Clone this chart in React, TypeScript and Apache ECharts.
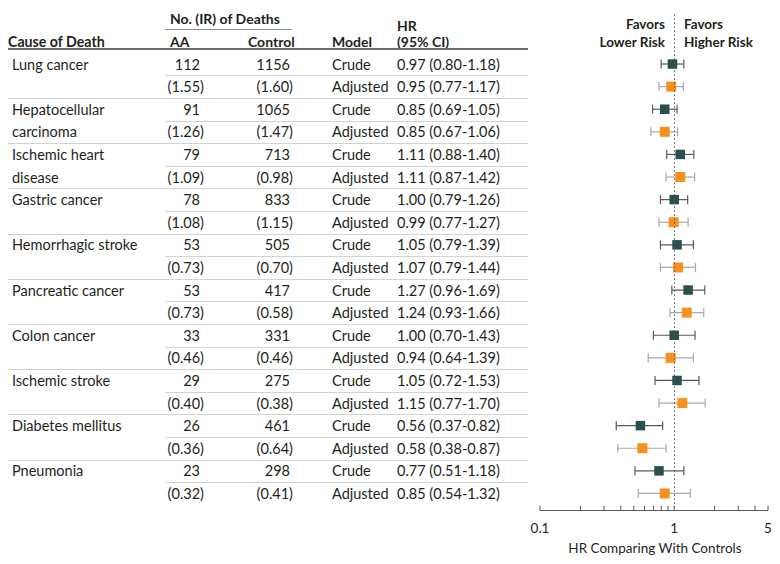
import React, { useEffect, useRef } from "react";
import * as echarts from "echarts";

const causes = [
  ["Lung cancer"],
  ["Hepatocellular", "carcinoma"],
  ["Ischemic heart", "disease"],
  ["Gastric cancer"],
  ["Hemorrhagic stroke"],
  ["Pancreatic cancer"],
  ["Colon cancer"],
  ["Ischemic stroke"],
  ["Diabetes mellitus"],
  ["Pneumonia"],
];
const aaDeaths = [112, 91, 79, 78, 53, 53, 33, 29, 26, 23];
const aaIR = ["1.55", "1.26", "1.09", "1.08", "0.73", "0.73", "0.46", "0.40", "0.36", "0.32"];
const ctrlDeaths = [1156, 1065, 713, 833, 505, 417, 331, 275, 461, 298];
const ctrlIR = ["1.60", "1.47", "0.98", "1.15", "0.70", "0.58", "0.46", "0.38", "0.64", "0.41"];
const crudeHR = [
  [0.97, 0.8, 1.18],
  [0.85, 0.69, 1.05],
  [1.11, 0.88, 1.4],
  [1.0, 0.79, 1.26],
  [1.05, 0.79, 1.39],
  [1.27, 0.96, 1.69],
  [1.0, 0.7, 1.43],
  [1.05, 0.72, 1.53],
  [0.56, 0.37, 0.82],
  [0.77, 0.51, 1.18],
];
const adjHR = [
  [0.95, 0.77, 1.17],
  [0.85, 0.67, 1.06],
  [1.11, 0.87, 1.42],
  [0.99, 0.77, 1.27],
  [1.07, 0.79, 1.44],
  [1.24, 0.93, 1.66],
  [0.94, 0.64, 1.39],
  [1.15, 0.77, 1.7],
  [0.58, 0.38, 0.87],
  [0.85, 0.54, 1.32],
];
const tickValues = [0.1, 0.2, 0.3, 0.4, 0.5, 0.6, 0.7, 0.8, 0.9, 1, 2, 3, 4, 5];
const tickLabels = [
  [0.1, "0.1"],
  [1, "1"],
  [5, "5"],
];

const FONT = "Lato";
const FS = 14.5;
const TXT = "#231f20";
const CRUDE = "#2b4f4f";
const ADJ = "#f7901e";
const YMIN = -2.2;
const YMAX = 19.75;

const fmt = (v: number) => v.toFixed(2);

export default function App() {
  const ref = useRef<HTMLDivElement>(null);
  useEffect(() => {
    const chart = echarts.init(ref.current!, null, { renderer: "svg" });

    const forestData: any[] = [];
    crudeHR.forEach((d, i) => forestData.push([i * 2, d[0], d[1], d[2], 0]));
    adjHR.forEach((d, i) => forestData.push([i * 2 + 1, d[0], d[1], d[2], 1]));

    const tableRows = Array.from({ length: 20 }, (_, r) => [r]);

    const txt = (text: string, x: number, y: number, align = "left", bold = false, fs = FS) => ({
      type: "text",
      style: {
        text,
        x,
        y,
        textAlign: align,
        textVerticalAlign: "middle",
        fill: TXT,
        font: `${bold ? "bold " : ""}${fs}px "${FONT}"`,
      },
    });

    chart.setOption({
      animation: false,
      grid: { left: 540, right: 12, top: 14.3, bottom: 53.6 },
      xAxis: {
        type: "log",
        logBase: 10,
        min: 0.1,
        max: 5,
        axisLine: { show: false },
        axisTick: { show: false },
        axisLabel: { show: false },
        splitLine: { show: false },
      },
      yAxis: {
        type: "value",
        inverse: true,
        min: YMIN,
        max: YMAX,
        show: false,
      },
      graphic: [
        txt("Cause of Death", 8, 41, "left", true, 14.2),
        txt("No. (IR) of Deaths", 170, 18, "left", true, 14),
        { type: "line", shape: { x1: 165, y1: 29.5, x2: 292, y2: 29.5 }, style: { stroke: "#8a8a8a", lineWidth: 1 } },
        txt("AA", 170, 41, "left", true, 14),
        txt("Control", 248, 41, "left", true, 14),
        txt("Model", 332, 41, "left", true, 14),
        txt("HR", 397, 25, "left", true, 14),
        txt("(95% CI)", 397, 41, "left", true, 14),
        { type: "line", shape: { x1: 8, y1: 49, x2: 528, y2: 49 }, style: { stroke: "#6d6e71", lineWidth: 2 } },
        txt("Favors", 665, 24, "right", true, 13.5),
        txt("Lower Risk", 665, 42, "right", true, 13.5),
        txt("Favors", 684, 24, "left", true, 13.5),
        txt("Higher Risk", 684, 42, "left", true, 13.5),
        txt("HR Comparing With Controls", 655, 548, "center", false, 13.5),
      ],
      series: [
        {
          type: "custom",
          name: "table",
          silent: true,
          clip: false,
          data: tableRows,
          encode: { y: 0 },
          renderItem: (params: any, api: any) => {
            const r = api.value(0);
            const g = Math.floor(r / 2);
            const crude = r % 2 === 0;
            const y = api.coord([1, r])[1];
            const half = (api.coord([1, r + 1])[1] - y) / 2;
            const children: any[] = [];
            const causeLine = causes[g][crude ? 0 : 1];
            if (causeLine) children.push(txt(causeLine, 12, y, "left"));
            children.push(txt(crude ? String(aaDeaths[g]) : `(${aaIR[g]})`, crude ? 200 : 204, y, "right"));
            children.push(txt(crude ? String(ctrlDeaths[g]) : `(${ctrlIR[g]})`, crude ? 290 : 293, y, "right"));
            children.push(txt(crude ? "Crude" : "Adjusted", 332, y, "left"));
            const hr = crude ? crudeHR[g] : adjHR[g];
            children.push(txt(`${fmt(hr[0])} (${fmt(hr[1])}-${fmt(hr[2])})`, 397, y, "left"));
            if (r < 19) {
              const ly = Math.round(y + half) + 0.5;
              children.push({
                type: "line",
                shape: { x1: crude ? 165 : 8, y1: ly, x2: 528, y2: ly },
                style: { stroke: "#d1d3d4", lineWidth: 1 },
              });
            }
            return { type: "group", children };
          },
          z: 1,
        },
        {
          type: "custom",
          name: "forest",
          silent: true,
          data: forestData,
          encode: { x: [1, 2, 3], y: 0 },
          renderItem: (params: any, api: any) => {
            const r = api.value(0);
            const t = api.value(4);
            const y = api.coord([1, r])[1];
            const xc = api.coord([api.value(1), r])[0];
            const xl = api.coord([api.value(2), r])[0];
            const xh = api.coord([api.value(3), r])[0];
            const barColor = t === 0 ? "#58595b" : "#a7a9ac";
            const s = t === 0 ? 9.5 : 10;
            return {
              type: "group",
              children: [
                { type: "line", shape: { x1: xl, y1: y, x2: xh, y2: y }, style: { stroke: barColor, lineWidth: 1.2 } },
                { type: "line", shape: { x1: xl, y1: y - 4.5, x2: xl, y2: y + 4.5 }, style: { stroke: barColor, lineWidth: 1.2 } },
                { type: "line", shape: { x1: xh, y1: y - 4.5, x2: xh, y2: y + 4.5 }, style: { stroke: barColor, lineWidth: 1.2 } },
                { type: "rect", shape: { x: xc - s / 2, y: y - s / 2, width: s, height: s }, style: { fill: t === 0 ? CRUDE : ADJ } },
              ],
            };
          },
          markLine: {
            silent: true,
            symbol: "none",
            label: { show: false },
            lineStyle: { color: "#58595b", type: [1.5, 2.5], width: 1 },
            data: [{ xAxis: 1 }],
          },
          z: 3,
        },
        {
          type: "custom",
          name: "axis",
          silent: true,
          clip: false,
          data: tickValues.map((v) => [v]),
          encode: { x: 0 },
          renderItem: (params: any, api: any) => {
            const v = api.value(0);
            const p = api.coord([v, YMAX]);
            const y = Math.round(p[1]) + 0.5;
            const children: any[] = [
              { type: "line", shape: { x1: p[0], y1: y - 5, x2: p[0], y2: y }, style: { stroke: "#58595b", lineWidth: 1 } },
            ];
            if (params.dataIndex === 0) {
              const a = api.coord([tickValues[0], YMAX])[0];
              const b = api.coord([tickValues[tickValues.length - 1], YMAX])[0];
              children.push({ type: "line", shape: { x1: a, y1: y, x2: b, y2: y }, style: { stroke: "#58595b", lineWidth: 1 } });
            }
            const lab = tickLabels.find((l) => l[0] === v);
            if (lab) {
              children.push({
                type: "text",
                style: {
                  text: lab[1],
                  x: p[0],
                  y: y + 17,
                  textAlign: "center",
                  textVerticalAlign: "middle",
                  fill: TXT,
                  font: `13.5px "${FONT}"`,
                },
              });
            }
            return { type: "group", children };
          },
          z: 2,
        },
      ],
    });
    return () => chart.dispose();
  }, []);
  return <div ref={ref} style={{ position: "absolute", left: 0, top: 0, width: 780, height: 564 }} />;
}
